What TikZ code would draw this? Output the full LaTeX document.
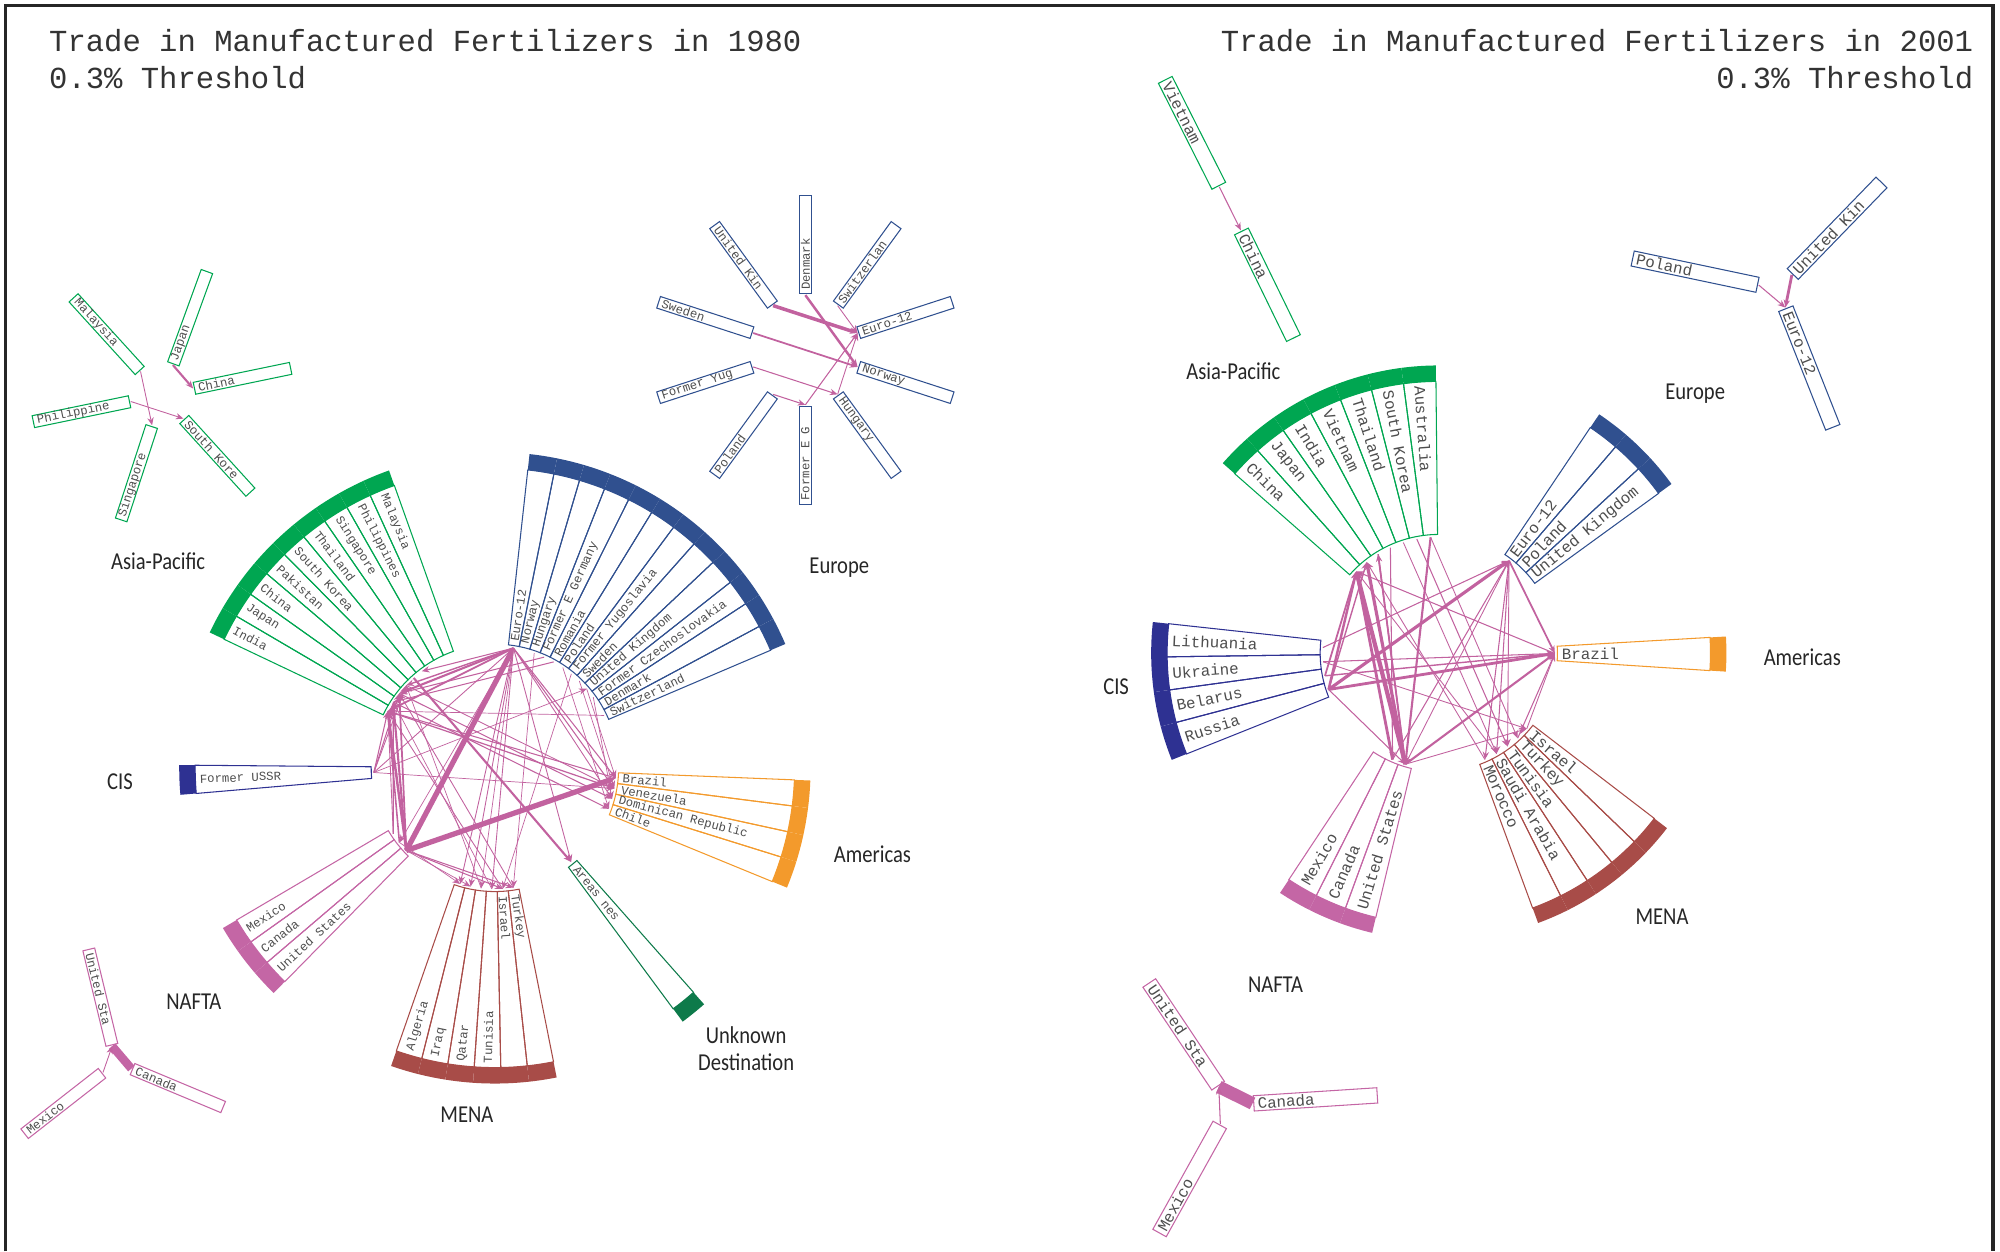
\documentclass[tikz,border=0pt]{standalone}
\usepackage{fontspec}
\usepackage{tikz}
\usetikzlibrary{arrows.meta}

\newfontfamily\monof{Liberation Mono}
\newfontfamily\regf[FakeStretch=0.85]{Carlito}

\definecolor{apgreen}{HTML}{00A651}
\definecolor{eublue}{HTML}{30508F}
\definecolor{cisblue}{HTML}{2E3192}
\definecolor{amorange}{HTML}{F39A2C}
\definecolor{naftapink}{HTML}{C466A5}
\definecolor{menared}{HTML}{A84C48}
\definecolor{unkgreen}{HTML}{0D7A4A}
\definecolor{linkpink}{HTML}{C2629F}
\definecolor{labgray}{HTML}{4D4D4D}

% fan of strips round a hub: centre, start angle, step, r inner, r outer, colour, prefix, label style, labels
\newcommand{\fan}[9]{%
  \begin{scope}[shift={#1}]
  \foreach \lab [count=\i] in {#9} {
    \pgfmathsetmacro\stA{#2+(\i-1)*(#3)}
    \pgfmathsetmacro\stB{\stA+(#3)}
    \pgfmathsetmacro\stM{\stA+(#3)/2}
    \pgfmathsetmacro\rB{#5+12.5}
    \pgfmathsetmacro\rI{#4+3}
    \pgfmathsetmacro\rO{#5-3}
    \pgfmathsetmacro\rC{#4-2}
    \fill[#6] (\stA:#5) arc[start angle=\stA, end angle=\stB, radius=#5]
      -- (\stB:\rB) arc[start angle=\stB, end angle=\stA, radius=\rB] -- cycle;
    \draw[#6, stripline] (\stA:#4) -- (\stA:#5) arc[start angle=\stA, end angle=\stB, radius=#5]
      -- (\stB:#4) arc[start angle=\stB, end angle=\stA, radius=#4] -- cycle;
    \pgfmathsetmacro\stN{mod(\stM+720,360)}
    \pgfmathtruncatemacro\isout{(\stN<90.5)||(\stN>270.5)}
    \ifnum\isout=1
      \node[#8, anchor=west, rotate=\stM] (#7\i-t) at (\stM:\rI) {\lab};
    \else
      \node[#8, anchor=west, rotate=\stM+180] (#7\i-t) at (\stM:\rO) {\lab};
    \fi
    \coordinate (#7\i) at (\stM:\rC);
  }
  \end{scope}}

% one box of a small star: centre, angle, gap, length, width, colour, label style, name, label
\newcommand{\spoke}[9]{%
  \begin{scope}[shift={#1}]
    \pgfmathsetmacro\hw{(#5)/2}
    \pgfmathsetmacro\rE{#3+#4}
    \draw[#6, stripline, rotate=#2] (#3,-\hw) rectangle (\rE,\hw);
    \pgfmathsetmacro\rI{#3+2.5}
    \pgfmathsetmacro\rO{\rE-2.5}
    \pgfmathsetmacro\rC{#3-1}
    \pgfmathsetmacro\stN{mod(#2+720,360)}
    \pgfmathtruncatemacro\isout{(\stN<90.5)||(\stN>270.5)}
    \ifnum\isout=1
      \node[#7, anchor=west, rotate=#2] (#8-t) at (#2:\rI) {#9};
    \else
      \node[#7, anchor=west, rotate=#2+180] (#8-t) at (#2:\rO) {#9};
    \fi
    \coordinate (#8) at (#2:\rC);
  \end{scope}}

\begin{document}
\begin{tikzpicture}[x=0.012755cm, y=0.012755cm]
	\tikzstyle{stripline} = [line width=0.3pt]
	\tikzstyle{tlabel} = [text=labgray, inner sep=0pt]
	\tikzstyle{labA} = [tlabel, font=\monof\fontsize{3.5}{4}\selectfont]
	\tikzstyle{labB} = [tlabel, font=\monof\fontsize{4.5}{5}\selectfont]
	\tikzstyle{regionlabel} = [font=\regf\fontsize{6.9}{7.6}\selectfont, text=black!85, align=center, inner sep=0pt]
	\tikzstyle{charttitle} = [font=\monof\fontsize{8.7}{10}\selectfont, text=black!80, inner sep=0pt]
	\tikzstyle{tradelink} = [draw=linkpink, -{Stealth[length=2.2pt,width=1.8pt]}]
	\tikzstyle{fatlink} = [draw=naftapink, line width=2.4pt]
	\tikzstyle{frameline} = [draw=black!85, line width=0.9pt]
	
	\useasboundingbox (0,0) rectangle (1568,981);
	\draw[frameline] (4,0) -- (4,976.5) -- (1562.5,976.5) -- (1562.5,0);
	
	% titles
	\node[charttitle, anchor=base west] (t80a) at (38,940.7) {Trade in Manufactured Fertilizers in 1980};
	\node[charttitle, anchor=base west] (t80b) at (38,911.7) {0.3\% Threshold};
	\node[charttitle, anchor=base east] (t01a) at (1547.5,940.7) {Trade in Manufactured Fertilizers in 2001};
	\node[charttitle, anchor=base east] (t01b) at (1547.5,911.7) {0.3\% Threshold};
	
	% 1980 hub
	\fan{(388,379)}{-2.3}{-5}{97}{235}{amorange}{aA}{labA}{Brazil,Venezuela,Dominican Republic,Chile}
	\fan{(388,379)}{83.7}{-5.05}{97}{235}{eublue}{aE}{labA}{Euro-12,Norway,Hungary,Former E Germany,Romania,Poland,Former Yugoslavia,Sweden,United Kingdom,Former Czechoslovakia,Denmark,Switzerland}
	\fan{(388,379)}{109.6}{5}{97}{235}{apgreen}{aP}{labA}{Malaysia,Philippines,Singapore,Thailand,South Korea,Pakistan,China,Japan,India}
	\fan{(388,379)}{179.5}{5.4}{97}{235}{cisblue}{aC}{labA}{Former USSR}
	\fan{(388,379)}{210.5}{5}{97}{235}{naftapink}{aN}{labA}{Mexico,Canada,United States}
	\fan{(388,379)}{250.8}{5.08}{97}{235}{menared}{aM}{labA}{Algeria,Iraq,Qatar,Tunisia,Israel,Turkey}
	\fan{(388,379)}{306.5}{5}{97}{235}{unkgreen}{aU}{labA}{Areas nes}
	
	\foreach \s/\t/\w in {aN3/aE1/1.5pt, aN3/aA1/1.5pt, aN3/aP9/0.7pt, aN3/aP8/0.6pt, aN3/aP7/0.5pt,
		aN2/aP9/0.45pt, aN1/aP8/0.35pt, aE1/aP9/0.5pt, aE1/aP7/0.6pt, aE1/aP6/0.4pt, aE1/aP4/0.3pt,
		aE1/aA1/0.3pt, aE1/aA2/0.3pt, aE1/aA3/0.25pt, aE1/aM1/0.25pt, aE1/aM2/0.25pt, aE1/aM3/0.2pt,
		aE1/aM4/0.25pt, aE1/aU1/0.25pt, aE1/aN2/0.2pt, aC1/aP9/0.3pt, aC1/aP7/0.3pt, aC1/aP6/0.25pt,
		aC1/aE1/0.25pt, aC1/aE9/0.2pt, aC1/aA2/0.2pt, aP5/aU1/0.6pt, aP9/aA2/0.35pt, aP7/aA3/0.3pt,
		aP8/aA4/0.3pt, aP6/aA2/0.25pt, aN3/aM5/0.3pt, aN3/aM6/0.3pt, aN3/aM2/0.2pt, aN2/aM1/0.2pt,
		aE4/aP7/0.3pt, aE5/aP8/0.3pt, aE6/aA4/0.2pt, aE9/aA1/0.2pt, aE10/aA3/0.2pt, aE12/aP9/0.2pt,
		aE3/aM6/0.2pt, aE7/aM5/0.2pt, aE8/aA2/0.2pt, aM6/aP7/0.25pt, aM5/aP9/0.25pt, aM4/aP8/0.2pt,
		aM3/aP6/0.2pt, aA1/aP9/0.3pt, aN1/aP9/0.25pt}
		\draw[tradelink, line width=\w] (\s) -- (\t);
	
	\node[regionlabel] (rAP80) at (124,541) {Asia-Pacific};
	\node[regionlabel] (rEU80) at (658,536) {Europe};
	\node[regionlabel] (rCI80) at (94,368) {CIS};
	\node[regionlabel] (rAM80) at (684,311) {Americas};
	\node[regionlabel] (rNA80) at (152,196) {NAFTA};
	\node[regionlabel] (rME80) at (366,107) {MENA};
	\node[regionlabel] (rUN80) at (585,159) {Unknown\\Destination};
	
	% 1980 small stars
	\spoke{(127,671.3)}{11.7}{26}{77}{9.5}{apgreen}{labA}{pChi}{China}
	\spoke{(127,671.3)}{70}{26}{77}{9.5}{apgreen}{labA}{pJap}{Japan}
	\spoke{(127,671.3)}{132.3}{26}{77}{9.5}{apgreen}{labA}{pMal}{Malaysia}
	\spoke{(127,671.3)}{191.7}{26}{77}{9.5}{apgreen}{labA}{pPhi}{Philippine}
	\spoke{(127,671.3)}{251.9}{26}{77}{9.5}{apgreen}{labA}{pSin}{Singapore}
	\spoke{(127,671.3)}{312.3}{26}{77}{9.5}{apgreen}{labA}{pKor}{South Kore}
	\draw[tradelink, line width=0.6pt] (pJap) -- (pChi);
	\draw[tradelink, line width=0.25pt] (pMal) -- (pSin);
	\draw[tradelink, line width=0.25pt] (pPhi) -- (pKor);
	
	\spoke{(631.4,706.6)}{90}{44}{77}{9.5}{eublue}{labA}{eDen}{Denmark}
	\spoke{(631.4,706.6)}{54}{44}{77}{9.5}{eublue}{labA}{eSwi}{Switzerlan}
	\spoke{(631.4,706.6)}{18}{44}{77}{9.5}{eublue}{labA}{eEur}{Euro-12}
	\spoke{(631.4,706.6)}{-18}{44}{77}{9.5}{eublue}{labA}{eNor}{Norway}
	\spoke{(631.4,706.6)}{-54}{44}{77}{9.5}{eublue}{labA}{eHun}{Hungary}
	\spoke{(631.4,706.6)}{-90}{44}{77}{9.5}{eublue}{labA}{eFEG}{Former E G}
	\spoke{(631.4,706.6)}{-126}{44}{77}{9.5}{eublue}{labA}{ePol}{Poland}
	\spoke{(631.4,706.6)}{-162}{44}{77}{9.5}{eublue}{labA}{eFYu}{Former Yug}
	\spoke{(631.4,706.6)}{162}{44}{77}{9.5}{eublue}{labA}{eSwe}{Sweden}
	\spoke{(631.4,706.6)}{126}{44}{77}{9.5}{eublue}{labA}{eUK}{United Kin}
	\draw[tradelink, line width=1pt] (eUK) -- (eEur);
	\draw[tradelink, line width=0.7pt] (eDen) -- (eNor);
	\draw[tradelink, line width=0.5pt] (eSwe) -- (eNor);
	\draw[tradelink, line width=0.3pt] (eFYu) -- (eHun);
	\draw[tradelink, line width=0.3pt] (ePol) -- (eFEG);
	\draw[tradelink, line width=0.3pt] (eFEG) -- (eEur);
	\draw[tradelink, line width=0.25pt] (eSwi) -- (eEur);
	\draw[tradelink, line width=0.25pt] (eHun) -- (eEur);
	
	\spoke{(91,148.2)}{103.6}{14}{77}{9.5}{naftapink}{labA}{nUS}{United Sta}
	\spoke{(91,148.2)}{-22.7}{14}{77}{9.5}{naftapink}{labA}{nCan}{Canada}
	\spoke{(91,148.2)}{218}{14}{77}{9.5}{naftapink}{labA}{nMex}{Mexico}
	\draw[fatlink] (nUS) -- (nCan);
	\draw[tradelink, line width=0.25pt] (nMex) -- (nUS);
	
	% 2001 hub
	\fan{(1128,469)}{90.6}{6.87}{93}{213}{apgreen}{bP}{labB}{Australia,South Korea,Thailand,Vietnam,India,Japan,China}
	\fan{(1128,469)}{56.1}{-6.7}{93}{213}{eublue}{bE}{labB}{Euro-12,Poland,United Kingdom}
	\fan{(1128,469)}{3.3}{-7}{93}{213}{amorange}{bA}{labB}{Brazil}
	\fan{(1128,469)}{-37.5}{-6.46}{93}{213}{menared}{bM}{labB}{Israel,Turkey,Tunisia,Saudi Arabia,Morocco}
	\fan{(1128,469)}{236.5}{6.7}{93}{213}{naftapink}{bN}{labB}{Mexico,Canada,United States}
	\fan{(1128,469)}{173.8}{7}{93}{213}{cisblue}{bC}{labB}{Lithuania,Ukraine,Belarus,Russia}
	
	\foreach \s/\t/\w in {bN3/bP7/1.2pt, bN3/bP6/0.9pt, bN2/bP7/0.8pt, bN3/bP5/0.5pt, bC4/bE1/0.9pt,
		bC4/bA1/0.8pt, bC3/bA1/0.4pt, bC2/bA1/0.3pt, bC4/bP7/0.7pt, bC3/bP7/0.5pt, bC4/bP6/0.4pt,
		bC4/bN3/0.3pt, bC1/bE1/0.3pt, bC2/bM1/0.25pt, bN3/bA1/0.6pt, bN2/bE1/0.3pt, bE1/bA1/0.5pt,
		bE1/bM5/0.3pt, bE1/bM4/0.3pt, bE1/bM3/0.25pt, bE1/bN3/0.25pt, bP1/bN3/0.6pt, bP2/bM3/0.3pt,
		bP3/bM4/0.25pt, bP1/bM2/0.25pt, bM2/bA1/0.3pt, bM1/bA1/0.25pt, bM4/bP7/0.25pt, bM5/bP6/0.25pt,
		bA1/bP7/0.3pt, bN3/bM1/0.25pt, bP4/bN2/0.3pt, bP5/bN3/0.4pt}
		\draw[tradelink, line width=\w] (\s) -- (\t);
	
	\node[regionlabel] (rAP01) at (967,690) {Asia-Pacific};
	\node[regionlabel] (rEU01) at (1329,672) {Europe};
	\node[regionlabel] (rCI01) at (875,443) {CIS};
	\node[regionlabel] (rAM01) at (1413,466) {Americas};
	\node[regionlabel] (rME01) at (1303,262) {MENA};
	\node[regionlabel] (rNA01) at (1000,209) {NAFTA};
	
	% 2001 small stars
	\spoke{(964.5,817.5)}{116.8}{20}{93}{12}{apgreen}{labB}{qVie}{Vietnam}
	\spoke{(964.5,817.5)}{-64}{20}{93}{12}{apgreen}{labB}{qChi}{China}
	\draw[tradelink, line width=0.3pt] (qVie) -- (qChi);
	
	\spoke{(1394,754.3)}{168.1}{16.5}{100}{12}{eublue}{labB}{fPol}{Poland}
	\spoke{(1394,754.3)}{45.9}{16.5}{100}{12}{eublue}{labB}{fUK}{United Kin}
	\spoke{(1394,754.3)}{-68.4}{16.5}{100}{12}{eublue}{labB}{fEur}{Euro-12}
	\draw[tradelink, line width=0.8pt] (fUK) -- (fEur);
	\draw[tradelink, line width=0.3pt] (fPol) -- (fEur);
	
	\spoke{(965,114.8)}{123.8}{18}{97}{12}{naftapink}{labB}{mUS}{United Sta}
	\spoke{(965,114.8)}{3.7}{18}{97}{12}{naftapink}{labB}{mCan}{Canada}
	\spoke{(965,114.8)}{240.9}{18}{97}{12}{naftapink}{labB}{mMex}{Mexico}
	\draw[fatlink, line width=3.6pt] (mUS) -- (mCan);
	\draw[tradelink, line width=0.3pt] (mMex) -- (mUS);
	
\end{tikzpicture}
\end{document}
